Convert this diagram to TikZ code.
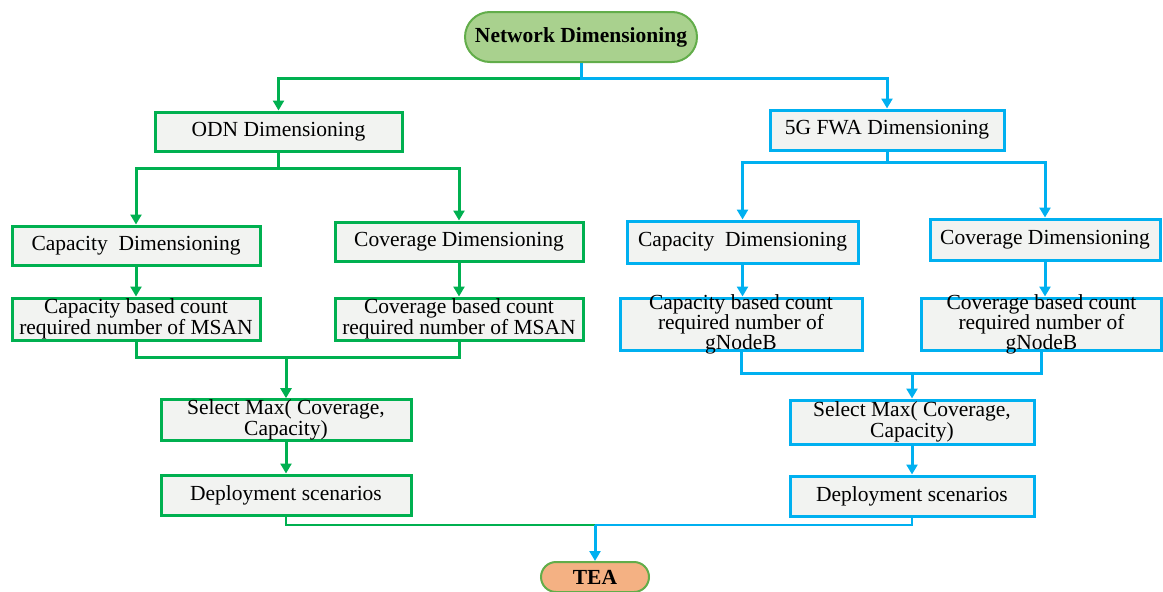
\documentclass[tikz,border=0pt]{standalone}
\usepackage{fontspec}
\setmainfont{Liberation Serif}
\usetikzlibrary{arrows.meta,shapes.misc}
\definecolor{gline}{HTML}{00B050}
\definecolor{bline}{HTML}{00B0F0}
\definecolor{boxfill}{HTML}{F2F3F1}
\definecolor{termgreen}{HTML}{A9D18E}
\definecolor{termorange}{HTML}{F4B183}
\definecolor{termedge}{HTML}{62AD4A}
% fixed-height text block; extra lines spill over the frame
\newcommand{\fixedtext}[3]{\parbox[c][#1][c]{#2}{\centering #3}}
\begin{document}
\begin{tikzpicture}[x=1pt,y=-1pt,
  font=\fontsize{21.5}{21}\selectfont,
  stepbox/.style={draw, line width=3pt, fill=boxfill, inner sep=0pt, align=center},
  gbox/.style={stepbox, draw=gline},
  bbox/.style={stepbox, draw=bline},
  term/.style={rounded rectangle, draw=termedge, line width=2pt, inner sep=0pt,
    font=\fontsize{21.5}{21}\selectfont\bfseries},
  conn/.style={line width=3pt},
  gconn/.style={conn, draw=gline},
  bconn/.style={conn, draw=bline},
  thin/.style={line width=2.2pt},
  tip/.style={-{Triangle[width=11pt,length=10pt]}}
]
\useasboundingbox (0,0) rectangle (1163,592);

% terminals
\node[term, fill=termgreen, minimum width=232pt, minimum height=50pt] (nd) at (581,37) {Network Dimensioning};
\node[term, fill=termorange, minimum width=108pt, minimum height=30pt] (tea) at (595,577) {TEA};

% ODN branch
\node[gbox, minimum width=247pt, minimum height=39pt] (odn) at (278.5,131.5) {ODN Dimensioning};
\node[gbox, minimum width=248pt, minimum height=39pt] (lcap) at (136,245.5) {Capacity\ \ Dimensioning};
\node[gbox, minimum width=248pt, minimum height=39pt] (lcov) at (459,241.5) {Coverage Dimensioning};
\node[gbox, minimum width=248pt, minimum height=42pt] (lcapc) at (136,319) {Capacity based count\\required number of MSAN};
\node[gbox, minimum width=248pt, minimum height=42pt] (lcovc) at (459,319) {Coverage based count\\required number of MSAN};
\node[gbox, minimum width=250pt, minimum height=40pt] (lsel) at (286,420) {Select Max( Coverage,\\Capacity)};
\node[gbox, minimum width=250pt, minimum height=40pt] (ldep) at (286,495) {Deployment scenarios};

% 5G FWA branch
\node[bbox, minimum width=234pt, minimum height=40pt] (fwa) at (887,130) {5G FWA Dimensioning};
\node[bbox, minimum width=231pt, minimum height=42pt] (rcap) at (742.5,242) {Capacity\ \ Dimensioning};
\node[bbox, minimum width=230pt, minimum height=41pt] (rcov) at (1045,239.5) {Coverage Dimensioning};
\node[bbox] (rcapc) at (741,324) {\fixedtext{52pt}{242pt}{\fontsize{21.5}{19.5}\selectfont Capacity based count\\required number of\\gNodeB}};
\node[bbox] (rcovc) at (1041.5,324) {\fixedtext{52pt}{240pt}{\fontsize{21.5}{19.5}\selectfont Coverage based count\\required number of\\gNodeB}};
\node[bbox, minimum width=244pt, minimum height=44pt] (rsel) at (912,422) {Select Max( Coverage,\\Capacity)};
\node[bbox, minimum width=244pt, minimum height=40pt] (rdep) at (912,496) {Deployment scenarios};

% junction points
\coordinate (j0) at (581,78);
\coordinate (jl) at (278.5,168);
\coordinate (jr) at (887,162);
\coordinate (ml) at (286,357);
\coordinate (mr) at (912,373);
\coordinate (mb) at (595,525);

% top split
\draw[gconn, tip] (j0) -| (odn.north);
\draw[bconn, tip] (nd.south) -- (j0) -| (fwa.north);

% ODN side
\draw[gconn, tip] (odn.south) -- (jl) -| (lcap.north);
\draw[gconn, tip] (jl) -| (lcov.north);
\draw[gconn, tip] (lcap.south) -- (lcapc.north);
\draw[gconn, tip] (lcov.south) -- (lcovc.north);
\draw[gconn] (lcapc.south) |- (ml) -| (lcovc.south);
\draw[gconn, tip] (ml) -- (lsel.north);
\draw[gconn, tip] (lsel.south) -- (ldep.north);

% 5G FWA side
\draw[bconn, tip] (fwa.south) -- (jr) -| (rcap.north);
\draw[bconn, tip] (jr) -| (rcov.north);
\draw[bconn, tip] (rcap.south) -- (rcap.south |- rcapc.north);
\draw[bconn, tip] (rcov.south) -- (rcov.south |- rcovc.north);
\draw[bconn] (rcapc.south) |- (mr) -| (rcovc.south);
\draw[bconn, tip] (mr) -- (rsel.north);
\draw[bconn, tip] (rsel.south) -- (rdep.north);

% merge into TEA
\draw[gconn, thin] (ldep.south) |- (mb);
\draw[bconn, thin] (rdep.south) |- (mb);
\draw[bconn, tip] (mb) -- (tea.north);
\end{tikzpicture}
\end{document}
